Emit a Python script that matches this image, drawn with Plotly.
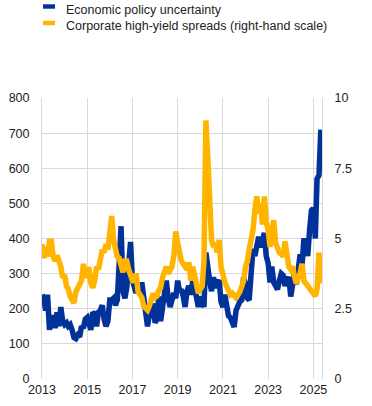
import pandas as pd
import plotly.graph_objects as go

# Monthly observations, January 2013 - May 2025
dates = pd.date_range("2013-01-01", "2025-05-01", freq="MS")

epu = [
    240, 230, 195, 240, 140, 175, 175, 145, 190, 150, 205, 165,   # 2013
    155, 160, 150, 155, 140, 118, 115, 125, 120, 150, 145, 170,   # 2014
    175, 160, 140, 190, 185, 150, 190, 195, 210, 170, 150, 165,   # 2015
    225, 225, 230, 210, 225, 330, 435, 250, 230, 260, 340, 390,   # 2016
    280, 260, 245, 270, 240, 275, 240, 195, 150, 185, 175, 215,   # 2017
    160, 170, 235, 165, 200, 245, 280, 230, 205, 225, 245, 230,   # 2018
    280, 250, 255, 235, 205, 250, 265, 240, 280, 260, 230, 205,   # 2019
    235, 210, 205, 360, 300, 280, 250, 290, 260, 270, 282, 220,   # 2020
    205, 240, 210, 180, 175, 155, 148, 195, 210, 220, 225, 290,   # 2021
    270, 230, 225, 330, 370, 350, 380, 405, 375, 390, 416, 350,   # 2022
    330, 275, 320, 275, 265, 255, 280, 300, 295, 265, 280, 290,   # 2023
    235, 280, 300, 270, 310, 355, 320, 400, 380, 350, 425, 480,   # 2024
    485, 400, 570, 580, 710,                                      # 2025
]

hy_spreads = [
    4.8, 4.3, 4.7, 4.35, 4.9, 4.9, 4.35, 4.2, 4.4, 4.2, 4.0, 3.6,      # 2013
    3.7, 3.3, 3.2, 2.95, 2.8, 2.7, 3.1, 3.25, 3.4, 3.5, 4.1, 3.6,      # 2014
    3.9, 3.9, 3.4, 3.25, 3.5, 4.0, 3.9, 4.3, 4.6, 4.5, 4.8, 4.6,       # 2015
    5.2, 5.8, 4.95, 4.6, 4.35, 4.3, 4.0, 3.8, 4.2, 4.2, 3.9, 3.65,     # 2016
    3.5, 3.5, 3.75, 3.1, 2.95, 2.9, 2.6, 2.5, 2.45, 2.6, 2.8, 3.05,    # 2017
    2.9, 2.95, 3.15, 3.25, 3.6, 3.9, 4.0, 3.75, 3.9, 4.0, 4.4, 5.25,   # 2018
    4.85, 4.45, 4.2, 4.1, 4.0, 3.9, 4.15, 3.5, 4.0, 3.7, 3.4, 3.05,    # 2019
    3.2, 3.3, 4.2, 9.2, 7.9, 5.7, 4.95, 4.7, 4.85, 4.5, 4.95, 4.0,     # 2020
    3.6, 3.45, 3.3, 3.15, 3.0, 3.05, 2.95, 2.9, 3.0, 3.1, 3.3, 3.5,    # 2021
    4.0, 4.2, 4.6, 4.9, 5.3, 6.0, 6.5, 5.9, 6.25, 5.5, 6.5, 5.6,       # 2022
    5.3, 4.7, 5.05, 5.65, 4.85, 4.6, 4.5, 4.45, 4.35, 4.9, 4.5, 4.0,   # 2023
    3.9, 4.0, 3.65, 3.4, 3.6, 3.75, 4.1, 3.5, 3.4, 3.3, 3.2, 3.15,     # 2024
    3.0, 2.95, 3.2, 4.5, 3.4,                                          # 2025
]

left_ticks = [0, 100, 200, 300, 400, 500, 600, 700, 800]
right_ticks = [0, 2.5, 5, 7.5, 10]
right_tick_labels = ["0", "2.5", "5", "7.5", "10"]
series_names = ["Economic policy uncertainty",
                "Corporate high-yield spreads (right-hand scale)"]

BLUE = "#003299"
YELLOW = "#FFB400"
GRID = "#d9d9d9"
FONT = "Liberation Sans, Arial, sans-serif"

fig = go.Figure()
fig.add_trace(go.Scatter(x=dates, y=epu, mode="lines", name=series_names[0],
                         line=dict(color=BLUE, width=5.5), yaxis="y"))
fig.add_trace(go.Scatter(x=dates, y=hy_spreads, mode="lines", name=series_names[1],
                         line=dict(color=YELLOW, width=5.5), yaxis="y2"))

W, H = 372, 406
L, R, T, B = 42, 50, 98, 27
pw, ph = W - L - R, H - T - B

def px(x):
    return (x - L) / pw

def py(y):
    return (H - B - y) / ph

# custom legend (short thick swatches)
legend_rows = [(series_names[0], BLUE, 6.5, 10), (series_names[1], YELLOW, 23, 26)]
shapes = []
annotations = []
for name, col, sy, ty in legend_rows:
    shapes.append(dict(type="rect", xref="paper", yref="paper",
                       x0=px(43), x1=px(55), y0=py(sy + 2.2), y1=py(sy - 2.2),
                       fillcolor=col, line=dict(width=0)))
    annotations.append(dict(xref="paper", yref="paper", x=px(64), y=py(ty),
                            text=name, showarrow=False, xanchor="left",
                            yanchor="middle", font=dict(size=12.5, color="#222", family=FONT)))

fig.update_layout(
    width=W, height=H,
    margin=dict(l=L, r=R, t=T, b=B, autoexpand=False),
    paper_bgcolor="white", plot_bgcolor="white",
    showlegend=False,
    font=dict(family=FONT, size=12.5, color="#222"),
    shapes=shapes, annotations=annotations,
    xaxis=dict(range=[pd.Timestamp("2013-01-01"), pd.Timestamp("2025-05-20")],
               tick0="2013-01-01", dtick="M24", tickformat="%Y",
               showgrid=True, gridcolor=GRID, gridwidth=1, automargin=False,
               zeroline=False, showline=False, ticks="", ticklabelstandoff=1),
    yaxis=dict(range=[0, 800], tickvals=left_ticks, showgrid=True, gridcolor=GRID,
               gridwidth=1, zeroline=False, showline=True, linecolor=GRID,
               ticks="", ticklabelstandoff=9, automargin=False),
    yaxis2=dict(range=[0, 10], tickvals=right_ticks, ticktext=right_tick_labels,
                overlaying="y", side="right", showgrid=False, zeroline=False,
                showline=True, linecolor=GRID, ticks="", ticklabelstandoff=9,
                automargin=False),
)

fig.write_html("out.html")
